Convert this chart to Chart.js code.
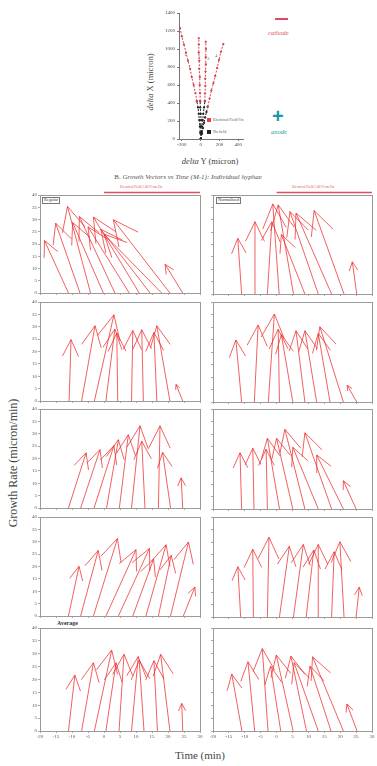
<!DOCTYPE html>
<html>
<head>
<meta charset="utf-8">
<script src="https://cdn.jsdelivr.net/npm/chart.js@4.4.1/dist/chart.umd.min.js"></script>
<style>
body { margin: 0; background: #fff; }
#wrap { position: relative; width: 377px; height: 766px; overflow: hidden; font-family: 'Liberation Serif', 'DejaVu Serif', serif; color: #444; }
canvas { position: absolute; }
.t { position: absolute; white-space: nowrap; line-height: 1; }
.rot { transform: translate(-50%, -50%) rotate(-90deg); }
.ctr { transform: translateX(-50%); }
</style>
</head>
<body>
<div id="wrap">
  <div class="t" style="left:275px;top:18px;width:13px;height:2px;background:#e04a58"></div>
  <div class="t" style="left:268px;top:30px;font-size:6.5px;font-style:italic;color:#e05565">cathode</div>
  <div class="t" style="left:272px;top:106px;font-size:20px;font-weight:bold;font-family:'Liberation Sans',sans-serif;color:#1d97a6">+</div>
  <div class="t" style="left:271px;top:129px;font-size:6.5px;font-style:italic;color:#2a9aa8">anode</div>

  <div class="t" style="left:207px;top:118px;width:4px;height:4px;background:#e04050"></div>
  <div class="t" style="left:213px;top:118px;font-size:4px;color:#555">Electrical Field On</div>
  <div class="t" style="left:207px;top:130px;width:4px;height:4px;background:#222"></div>
  <div class="t" style="left:213px;top:130px;font-size:4px;color:#555">No field</div>

  <div class="t" style="left:184px;top:53px;font-size:4.5px;color:#666">1</div>
  <div class="t" style="left:198px;top:56px;font-size:4.5px;color:#666">2</div>
  <div class="t" style="left:207px;top:57px;font-size:4.5px;color:#666">3</div>
  <div class="t" style="left:215px;top:54px;font-size:4.5px;color:#666">4</div>

  <div class="t rot" style="left:150px;top:82px;font-size:8.5px"><i>delta</i> X (micron)</div>
  <div class="t ctr" style="left:210px;top:157px;font-size:8.5px"><i>delta</i> Y (micron)</div>
  <div class="t ctr" style="left:188px;top:174px;font-size:7px;color:#555">B. <i>Growth Vectors vs Time (M-1): Individual hyphae</i></div>

  <div class="t" style="left:120px;top:186px;font-size:3.5px;color:#e05060">Electrical Field 1.00 V/cm On</div>
  <div class="t" style="left:292px;top:186px;font-size:3.5px;color:#e05060">Electrical Field 1.00 V/cm On</div>
  <div class="t" style="left:42px;top:197px;font-size:4.5px;border:0.5px solid #777;padding:0 1px;color:#333">Regular</div>
  <div class="t" style="left:216px;top:197px;font-size:4.5px;border:0.5px solid #777;padding:0 1px;color:#333">Normalized</div>
  <div class="t" style="left:57px;top:620px;font-size:6px;font-weight:bold;color:#333">Average</div>

  <div class="t rot" style="left:13px;top:463px;font-size:12px">Growth Rate (micron/min)</div>
  <div class="t ctr" style="left:200px;top:750px;font-size:11px">Time (min)</div>
</div>
<script>
// growth vectors: start time on the axis, tip time and tip rate
const p1Start = [-11.1, -7.5, -4.2, -0.2, 3.4, 7.9, 11.0, 14.4, 18.0, 20.6, 24.6];
const p1TipT = [-18.6, -15.1, -11.4, -9.8, -7.7, -5.0, -3.3, -1.0, 0.0, 2.9, 19.1];
const p1TipR = [21.4, 28.5, 35.3, 28.8, 31.2, 27.0, 31.0, 26.0, 24.0, 29.9, 11.7];

const p2Start = [-11.0, -6.8, -2.9, 0.8, 5.3, 8.9, 13.1, 17.3, 21.2, 25.2];
const p2TipT = [-12.2, -6.8, -1.5, -1.2, 0.5, 1.5, 4.2, 6.1, 11.8, 23.8];
const p2TipR = [22.5, 29.2, 29.2, 36.4, 36.0, 24.0, 33.3, 32.7, 33.7, 13.0];

const p3Start = [-10.9, -7.0, -3.0, 0.6, 4.3, 8.6, 12.3, 16.5, 20.6, 24.6];
const p3TipT = [-10.3, -2.8, 3.1, 3.4, 4.0, 9.0, 11.8, 15.6, 16.5, 22.5];
const p3TipR = [24.8, 30.4, 34.8, 29.1, 27.5, 28.5, 28.8, 27.7, 30.4, 6.7];

const p4Start = [-11.0, -7.0, -2.6, 0.9, 5.1, 8.9, 12.6, 16.8, 21.0, 25.2];
const p4TipT = [-12.8, -5.8, -0.7, 0.5, 1.5, 6.1, 8.9, 13.1, 13.6, 22.2];
const p4TipR = [24.8, 30.8, 35.2, 29.1, 27.0, 28.5, 28.5, 27.5, 30.1, 6.7];

const p5Start = [-11.1, -7.3, -3.1, 0.8, 4.8, 8.6, 12.8, 17.0, 20.8, 24.6];
const p5TipT = [-5.6, -1.25, 3.1, 4.5, 7.6, 11.25, 11.8, 17.5, 18.3, 24.1];
const p5TipR = [22.3, 23.6, 25.2, 27.6, 29.6, 33.2, 27.0, 33.2, 22.5, 12.2];

const p6Start = [-11.0, -7.1, -2.9, 0.9, 5.1, 8.9, 13.1, 17.3, 21.0, 25.0];
const p6TipT = [-11.5, -7.5, -3.3, -2.9, 0.0, 2.6, 5.1, 8.9, 12.6, 21.0];
const p6TipR = [22.5, 24.3, 23.9, 28.3, 28.3, 31.9, 24.7, 30.5, 21.6, 11.3];

const p7Start = [-11.1, -7.3, -3.3, 0.6, 4.5, 9.0, 13.1, 17.0, 20.8, 24.8];
const p7TipT = [-7.8, -1.8, 4.2, 10.0, 14.2, 15.5, 19.4, 21.0, 26.4, 28.4];
const p7TipR = [20.1, 26.5, 31.3, 26.8, 27.3, 23.0, 28.8, 24.5, 29.9, 11.7];

const p8Start = [-11.3, -7.3, -2.9, 0.9, 5.3, 9.3, 13.1, 17.3, 21.2, 25.0];
const p8TipT = [-12.2, -7.5, -2.4, 4.0, 8.4, 11.7, 13.1, 18.1, 19.9, 26.0];
const p8TipR = [20.1, 27.1, 31.9, 28.3, 29.0, 26.8, 29.0, 26.1, 30.1, 11.9];

const p9Start = [-11.1, -7.0, -3.0, 0.6, 4.7, 8.6, 12.5, 16.7, 20.6, 24.6];
const p9TipT = [-9.1, -3.3, 2.4, 3.75, 6.25, 10.7, 11.0, 15.6, 17.7, 24.3];
const p9TipR = [21.7, 26.5, 31.4, 26.5, 29.8, 28.9, 27.5, 27.3, 29.8, 10.7];

const p10Start = [-10.9, -6.9, -2.7, 1.3, 5.2, 9.4, 13.1, 17.1, 21.0, 25.3];
const p10TipT = [-14.1, -9.0, -4.5, -1.9, -0.1, 4.5, 5.5, 10.5, 11.3, 22.1];
const p10TipR = [22.1, 26.9, 32.0, 25.2, 29.5, 29.1, 26.5, 25.2, 28.8, 10.5];

const timeTicks = [-20, -15, -10, -5, 0, 5, 10, 15, 20, 25, 30];
const rateTicks = [0, 5, 10, 15, 20, 25, 30, 35, 40];
const fieldOn = [0, 30];

// hyphal trajectories (delta Y, delta X), black = no field, red = field on
const tr1NoX = [0, -5, -8, -14, -20, -28, -40];
const tr1NoY = [0, 70, 140, 210, 280, 350, 420];
const tr1OnX = [-40, -55, -75, -95, -112, -135, -155, -178, -200, -219];
const tr1OnY = [420, 510, 600, 690, 780, 870, 960, 1050, 1140, 1233];
const tr2NoX = [0, 5, 0, 6, 0, -4, -5];
const tr2NoY = [0, 70, 140, 210, 280, 350, 420];
const tr2OnX = [-5, -6, -10, -9, -15, -14, -20, -19, -20];
const tr2OnY = [420, 510, 600, 690, 780, 870, 960, 1050, 1119];
const tr3NoX = [0, 10, 14, 22, 28, 36, 45];
const tr3NoY = [0, 70, 140, 210, 280, 350, 420];
const tr3OnX = [45, 46, 50, 49, 52, 55, 54, 56, 54];
const tr3OnY = [420, 505, 590, 670, 750, 830, 910, 1000, 1081];
const tr4NoX = [0, 15, 24, 36, 48, 62, 75];
const tr4NoY = [0, 60, 120, 180, 240, 300, 360];
const tr4OnX = [75, 95, 114, 136, 155, 176, 195, 216, 241];
const tr4OnY = [360, 450, 540, 620, 700, 790, 880, 970, 1055];
const dxTicks = [-200, 0, 200, 400];
const dyTicks = [0, 200, 400, 600, 800, 1000, 1200, 1400];

const wrap = document.getElementById('wrap');
function addCanvas(left, top, w, h) {
    const c = document.createElement('canvas');
    c.width = w; c.height = h;
    c.style.left = left + 'px'; c.style.top = top + 'px';
    wrap.appendChild(c);
    return c;
}

const tickFont = { family: 'Liberation Serif', size: 5 };
const plain = v => String(v);

const frame = {
    id: 'frame',
    afterDraw(chart) {
        const a = chart.chartArea, ctx = chart.ctx;
        ctx.save();
        ctx.strokeStyle = '#9a9a9a';
        ctx.lineWidth = 1;
        ctx.strokeRect(Math.round(a.left) + 0.5, Math.round(a.top) + 0.5, Math.round(a.right - a.left), Math.round(a.bottom - a.top));
        const f = chart.options.plugins.frame;
        if (f && f.field) {
            const x = chart.scales.x;
            ctx.strokeStyle = '#e0505e';
            ctx.lineWidth = 1.5;
            ctx.beginPath();
            ctx.moveTo(x.getPixelForValue(f.field[0]), a.top - 2.5);
            ctx.lineTo(x.getPixelForValue(f.field[1]), a.top - 2.5);
            ctx.stroke();
        }
        ctx.restore();
    }
};

const arrowHeads = {
    id: 'arrowHeads',
    afterDatasetsDraw(chart) {
        const ctx = chart.ctx;
        ctx.save();
        chart.data.datasets.forEach((ds, i) => {
            const pts = chart.getDatasetMeta(i).data;
            if (pts.length < 2) return;
            const a = pts[0], b = pts[1];
            const len = Math.hypot(b.x - a.x, b.y - a.y);
            const head = len * 0.3;
            const ang = Math.atan2(b.y - a.y, b.x - a.x) + Math.PI;
            ctx.strokeStyle = ds.borderColor;
            ctx.lineWidth = 1;
            ctx.beginPath();
            [ang - 0.45, ang + 0.45].forEach(w => {
                ctx.moveTo(b.x, b.y);
                ctx.lineTo(b.x + head * Math.cos(w), b.y + head * Math.sin(w));
            });
            ctx.stroke();
        });
        ctx.restore();
    }
};

const rowTop = [195, 302, 409, 517, 628];
const rowH = [99, 100, 100, 100, 103];

function panel(col, row, starts, tipT, tipR, field) {
    const last = row === 4;
    const xh = last ? 14 : 3;
    const left = col === 0;
    const c = left ? addCanvas(16, rowTop[row] - 8, 190, 8 + rowH[row] + xh)
                   : addCanvas(206, rowTop[row] - 8, 171, 8 + rowH[row] + xh);
    const datasets = starts.map((s, i) => ({
        data: [{ x: s, y: 0 }, { x: tipT[i], y: tipR[i] }],
        showLine: true,
        borderColor: 'rgba(236,44,44,0.75)',
        borderWidth: 1,
        pointRadius: 0
    }));
    new Chart(c, {
        type: 'scatter',
        data: { datasets },
        options: {
            responsive: false, animation: false, events: [],
            layout: { padding: { top: 8, right: left ? 6 : 5, left: 0, bottom: 0 } },
            plugins: { legend: { display: false }, tooltip: { enabled: false }, frame: { field } },
            scales: {
                x: {
                    min: -20, max: 30,
                    afterBuildTicks: s => { s.ticks = timeTicks.map(v => ({ value: v })); },
                    afterFit: s => { s.height = xh; },
                    grid: { drawOnChartArea: false, tickLength: 2, color: '#aaa' },
                    border: { display: false },
                    ticks: { display: last, font: tickFont, color: '#555', padding: 1, maxRotation: 0, autoSkip: false, callback: plain }
                },
                y: {
                    min: 0, max: 40,
                    afterBuildTicks: s => { s.ticks = rateTicks.map(v => ({ value: v })); },
                    afterFit: s => { s.width = left ? 24 : 7; },
                    grid: { drawOnChartArea: false, tickLength: 2, color: '#aaa' },
                    border: { display: false },
                    ticks: { display: left, font: tickFont, color: '#555', padding: 1, callback: plain }
                }
            }
        },
        plugins: [frame, arrowHeads]
    });
}

panel(0, 0, p1Start, p1TipT, p1TipR, fieldOn);
panel(1, 0, p2Start, p2TipT, p2TipR, fieldOn);
panel(0, 1, p3Start, p3TipT, p3TipR);
panel(1, 1, p4Start, p4TipT, p4TipR);
panel(0, 2, p5Start, p5TipT, p5TipR);
panel(1, 2, p6Start, p6TipT, p6TipR);
panel(0, 3, p7Start, p7TipT, p7TipR);
panel(1, 3, p8Start, p8TipT, p8TipR);
panel(0, 4, p9Start, p9TipT, p9TipR);
panel(1, 4, p10Start, p10TipT, p10TipR);

// top trajectory plot
function track(xs, ys, color) {
    return {
        data: xs.map((x, i) => ({ x, y: ys[i] })),
        showLine: true,
        borderColor: color, backgroundColor: color,
        borderWidth: 1, borderDash: [2, 1.5],
        pointStyle: 'rect', pointRadius: 0.8
    };
}
const red = '#d8404e', black = '#1e1e1e';
new Chart(addCanvas(140, 6, 110, 150), {
    type: 'scatter',
    data: {
        datasets: [
            track(tr1OnX, tr1OnY, red), track(tr2OnX, tr2OnY, red),
            track(tr3OnX, tr3OnY, red), track(tr4OnX, tr4OnY, red),
            track(tr1NoX, tr1NoY, black), track(tr2NoX, tr2NoY, black),
            track(tr3NoX, tr3NoY, black), track(tr4NoX, tr4NoY, black)
        ]
    },
    options: {
        responsive: false, animation: false, events: [],
        layout: { padding: { top: 7, right: 7, left: 0, bottom: 0 } },
        plugins: { legend: { display: false }, tooltip: { enabled: false } },
        scales: {
            x: {
                min: -230, max: 450,
                afterBuildTicks: s => { s.ticks = dxTicks.map(v => ({ value: v })); },
                afterFit: s => { s.height = 17; },
                grid: { drawOnChartArea: false, tickLength: 2, color: '#777' },
                border: { color: '#777' },
                ticks: { font: tickFont, color: '#444', padding: 1, maxRotation: 0, autoSkip: false, callback: plain }
            },
            y: {
                min: 0, max: 1400,
                afterBuildTicks: s => { s.ticks = dyTicks.map(v => ({ value: v })); },
                afterFit: s => { s.width = 39; },
                grid: { drawOnChartArea: false, tickLength: 2, color: '#777' },
                border: { color: '#777' },
                ticks: { font: tickFont, color: '#444', padding: 2, callback: plain }
            }
        }
    }
});
</script>
</body>
</html>
